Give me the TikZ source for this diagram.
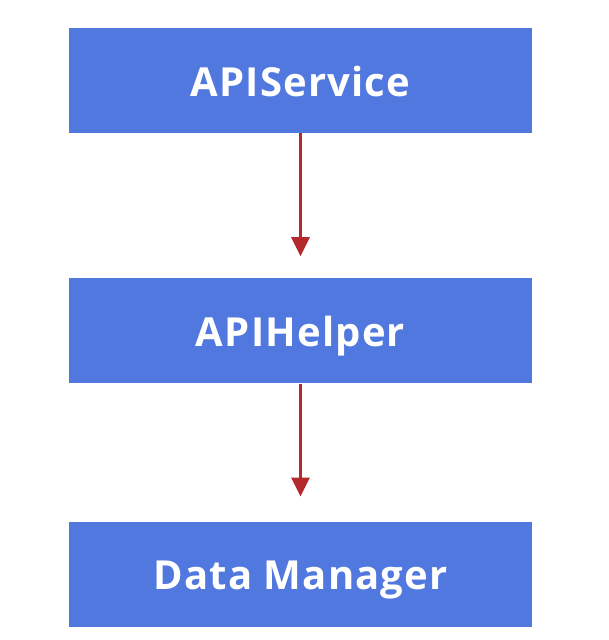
\documentclass[tikz,border=0pt]{standalone}
\usepackage{fontspec}
\setmainfont{Open Sans}
\usepackage{tikz}
\usetikzlibrary{positioning}
\usetikzlibrary{arrows.meta}
\definecolor{boxblue}{HTML}{5178DF}
\definecolor{arrowred}{HTML}{B3292D}
\newfontfamily\boxfont[LetterSpace=3]{Open Sans Bold}

\begin{document}
\begin{tikzpicture}[x=1pt,y=1pt,
		layer/.style = {fill = boxblue, rectangle, minimum width = 463pt, minimum height = 105pt, inner sep = 0pt, text height = 31pt, text depth = 0pt, text = white, font = \boxfont\fontsize{40pt}{48pt}\selectfont},
		flow/.style = {-{Triangle[width=18pt,length=19pt]}, draw = arrowred, line width = 3pt}]
		\useasboundingbox (0,0) rectangle (609,-640);
		\node[layer] at (300.5,-80.5) (svc) {APIService};
		\node[layer, below = 145pt of svc] (helper) {APIHelper};
		\node[layer, below = 138pt of helper] (data) {Data Manager};
		\draw[flow] (svc.south) to ([yshift=22pt]helper.north);
		\draw[flow] (helper.south) to ([yshift=25pt]data.north);
	\end{tikzpicture}
\end{document}
